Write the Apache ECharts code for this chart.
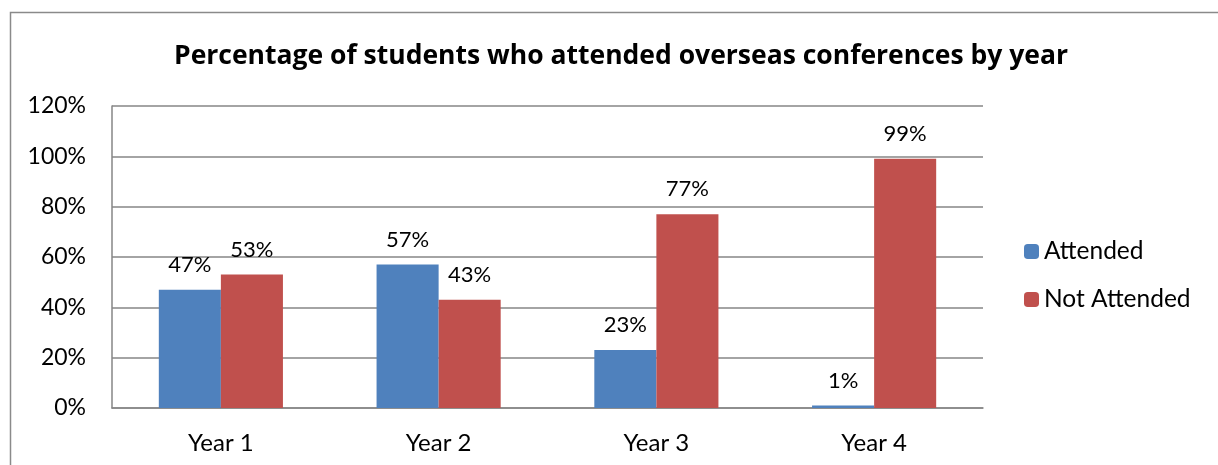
<!DOCTYPE html>
<html>
<head>
<meta charset="utf-8">
<script src="https://cdn.jsdelivr.net/npm/echarts@6/dist/echarts.min.js"></script>
<style>
  html, body { margin: 0; padding: 0; background: #fff; }
  #chart { width: 1218px; height: 465px; }
</style>
</head>
<body>
<div id="chart"></div>
<script>
// Conference attendance by year of study (percent of students)
const years = ['Year 1', 'Year 2', 'Year 3', 'Year 4'];
const attended = [47, 57, 23, 1];
const notAttended = [53, 43, 77, 99];
const yTicks = [0, 20, 40, 60, 80, 100, 120];

const FONT = 'Lato, "Liberation Sans", sans-serif';
const chart = echarts.init(document.getElementById('chart'));

const valueLabel = {
  show: true,
  position: 'top',
  distance: 14,
  formatter: p => p.value + '%',
  fontFamily: FONT,
  fontSize: 22,
  color: '#000'
};

chart.setOption({
  animation: false,
  backgroundColor: '#fff',
  title: {
    text: 'Percentage of students who attended overseas conferences by year',
    left: 169,
    top: 38,
    textStyle: { fontFamily: '"Open Sans", Lato, sans-serif', fontSize: 26.5, fontWeight: 'bold', color: '#000' }
  },
  graphic: [{
    type: 'rect',
    shape: { x: 10.5, y: 12.5, width: 1300, height: 600 },
    style: { fill: 'none', stroke: '#8a8a8a', lineWidth: 1.5 },
    silent: true
  }],
  legend: {
    orient: 'vertical',
    left: 1019,
    top: 234,
    itemWidth: 15,
    itemHeight: 15,
    itemGap: 23,
    textStyle: { fontFamily: FONT, fontSize: 24.5, color: '#000' },
    data: ['Attended', 'Not Attended']
  },
  grid: { left: 112, right: 235, top: 106, bottom: 57 },
  xAxis: {
    type: 'category',
    data: years,
    axisLine: { lineStyle: { color: '#868686', width: 1.5 } },
    axisTick: { show: false },
    axisLabel: { fontFamily: FONT, fontSize: 24, color: '#000', margin: 23 }
  },
  yAxis: {
    type: 'value',
    min: yTicks[0],
    max: yTicks[yTicks.length - 1],
    interval: yTicks[1] - yTicks[0],
    axisLine: { show: true, lineStyle: { color: '#868686', width: 1.5 } },
    axisTick: { show: false },
    splitLine: { lineStyle: { color: '#868686', width: 1.5 } },
    axisLabel: { fontFamily: FONT, fontSize: 23, color: '#000', margin: 26, formatter: v => v + '%' }
  },
  series: [
    {
      name: 'Attended',
      type: 'bar',
      data: attended,
      barGap: '0%',
      barCategoryGap: '43%',
      itemStyle: { color: '#4F81BD' },
      label: valueLabel
    },
    {
      name: 'Not Attended',
      type: 'bar',
      data: notAttended,
      itemStyle: { color: '#C0504D' },
      label: valueLabel
    }
  ]
});
</script>
</body>
</html>
